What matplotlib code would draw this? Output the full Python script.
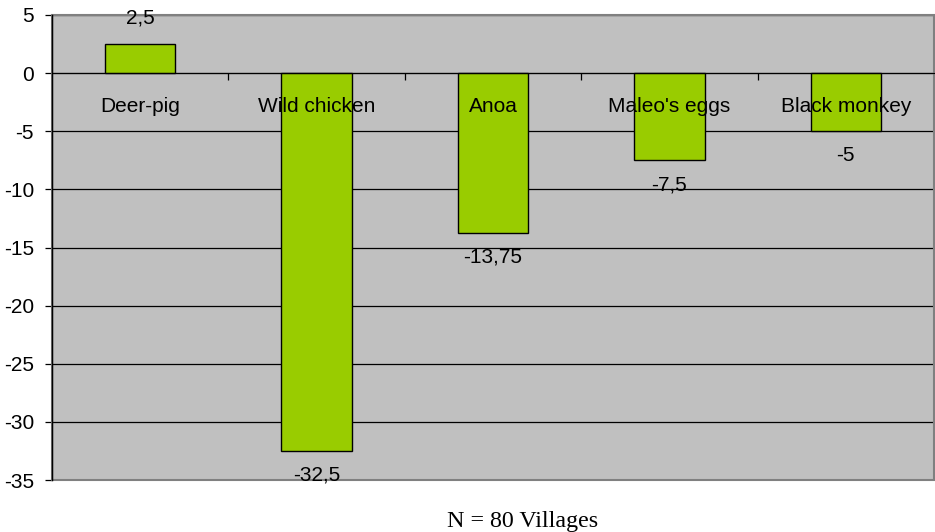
import numpy as np
import matplotlib.pyplot as plt
from matplotlib.patches import Rectangle

animals = ["Deer-pig", "Wild chicken", "Anoa", "Maleo's eggs", "Black monkey"]
change = [2.5, -32.5, -13.75, -7.5, -5]
value_text = ["2,5", "-32,5", "-13,75", "-7,5", "-5"]
yticks = [5, 0, -5, -10, -15, -20, -25, -30, -35]

plt.rcParams['font.family'] = ['Liberation Sans', 'DejaVu Sans']

fig = plt.figure(figsize=(9.35, 5.32), dpi=100)
ax = fig.add_axes([52/935, 1 - 480/532, 882/935, 465/532])
ax.set_facecolor('#C0C0C0')

x = np.arange(len(animals))
ax.bar(x, change, width=0.4, color='#99CC00', edgecolor='black', linewidth=1, zorder=3)

ax.set_xlim(-0.5, len(animals) - 0.5)
ax.set_ylim(-35, 5)
ax.set_yticks(yticks)
ax.set_yticklabels([str(v) for v in yticks], fontsize=15)
ax.yaxis.grid(True, color='black', linewidth=0.9)
ax.set_axisbelow(True)
ax.tick_params(axis='y', direction='out', length=5, width=0.9, pad=8)

# zero line carries the category boundary ticks
ax.spines['bottom'].set_position(('data', 0))
ax.spines['bottom'].set_color('black')
ax.spines['bottom'].set_zorder(4)
ax.set_xticks(x[:-1] + 0.5)
ax.set_xticklabels([])
ax.tick_params(axis='x', direction='out', length=5, width=0.9)

ax.spines['left'].set_color('black')
ax.spines['top'].set_visible(False)
ax.spines['right'].set_visible(False)
ax.add_patch(Rectangle((0, 0), 1, 1, transform=ax.transAxes, fill=False,
                       edgecolor='#808080', linewidth=1.5, zorder=2, clip_on=False))
ax.plot([0, 0], [0, 1], transform=ax.transAxes, color='black', lw=1, zorder=5, clip_on=False)

for xi, name in zip(x, animals):
    ax.annotate(name, (xi, 0), xytext=(0, -28), textcoords='offset points',
                ha='center', va='baseline', fontsize=15, zorder=6)

for xi, v, t in zip(x, change, value_text):
    off = 15 if v > 0 else -21.5
    ax.annotate(t, (xi, v), xytext=(0, off), textcoords='offset points',
                ha='center', va='baseline', fontsize=15, zorder=6, annotation_clip=False)

fig.text(523/935, 1 - 527/532, "N = 80 Villages", ha='center', va='baseline',
         fontsize=17.3, family='Liberation Serif')

fig.savefig('out.png', dpi=100)
